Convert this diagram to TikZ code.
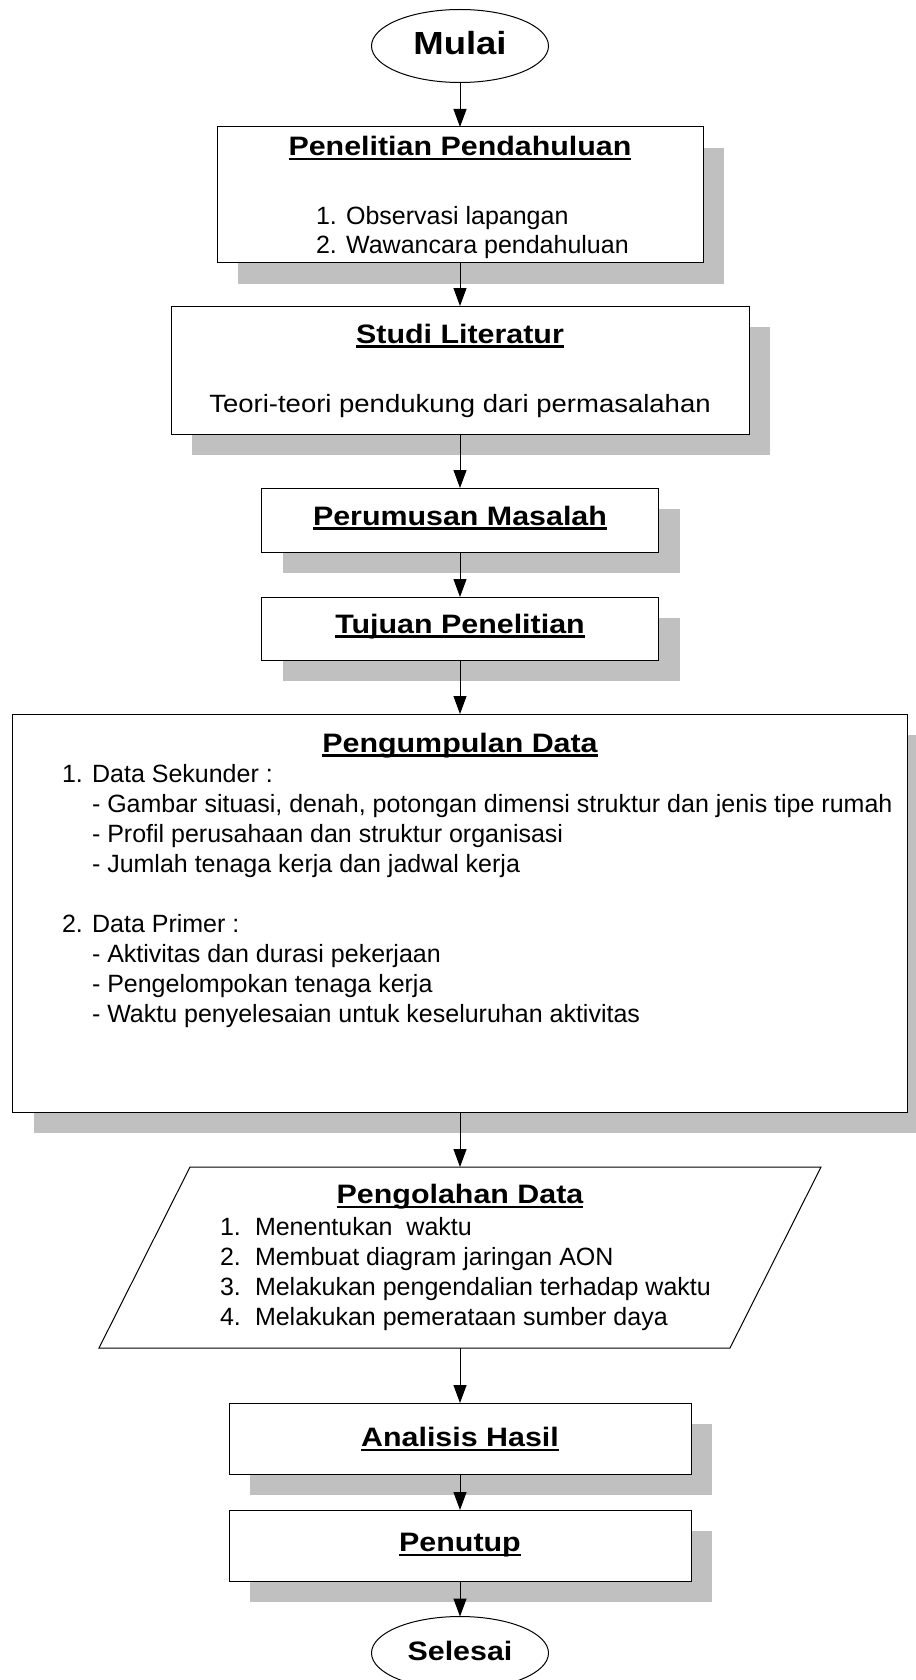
\documentclass[tikz,border=0pt]{standalone}
\usepackage{fontspec}
\setmainfont{Liberation Sans}
\newfontfamily\headfont[FakeStretch=1.14]{Liberation Sans}
\newfontfamily\widefont[FakeStretch=1.1]{Liberation Sans}
\usetikzlibrary{shapes.geometric,arrows.meta,shadows}
\definecolor{shadowgray}{RGB}{192,192,192}
% heading underline that runs through the descenders
\newcommand\ulhead[1]{\setbox0\hbox{#1}\rlap{\rule[-3.4pt]{\wd0}{1.6pt}}\box0}
\tikzset{
  wh/.style 2 args={minimum width=#1*0.75pt, minimum height=#2*0.75pt},
  stepbox/.style={draw=black, line width=0.75pt, fill=white, inner sep=0pt, outer sep=0pt,
    drop shadow={shadow xshift=16pt, shadow yshift=-16pt, fill=shadowgray, opacity=1}},
  terminal/.style={ellipse, draw=black, line width=0.75pt, fill=white, inner sep=0pt,
    outer sep=0pt, wh={177}{73}},
  frame/.style={inner sep=0pt, outer sep=0pt},
  txt/.style={inner sep=0pt, outer sep=0pt, font=\fontsize{18.75pt}{22pt}\selectfont},
  head/.style={inner sep=0pt, outer sep=0pt, font=\headfont\bfseries\fontsize{20pt}{24pt}\selectfont},
  bighead/.style={inner sep=0pt, outer sep=0pt, font=\headfont\bfseries\fontsize{24pt}{28pt}\selectfont},
  arr/.style={line width=0.75pt, -{Triangle[width=9.75pt, length=13.5pt]}}
}
\begin{document}
\begin{tikzpicture}[x=0.75pt, y=-0.75pt]
\useasboundingbox (0,0) rectangle (915,1680);

% terminals and process boxes
\node[terminal] (mulai) at (460,46) {};
\node[stepbox, wh={486}{136}] (pp) at (460,195) {};
\node[stepbox, wh={578}{128}] (sl) at (460,370) {};
\node[stepbox, wh={397}{64}] (pm) at (460,520) {};
\node[stepbox, wh={397}{63}] (tp) at (460,628.5) {};
\node[stepbox, wh={895}{398}] (pd) at (460,913) {};

% data processing (parallelogram)
\node[frame, wh={722}{181}] (olah) at (460,1257.5) {};
\draw[line width=0.75pt, fill=white] (190,1167) -- (821,1167) -- (730,1348) -- (99,1348) -- cycle;

\node[stepbox, wh={462}{71}] (ah) at (460,1438.5) {};
\node[stepbox, wh={462}{71}] (pt) at (460,1545.5) {};
\node[terminal] (selesai) at (460,1653) {};

% texts
\node[bighead, anchor=base] (mulai-t) at (460,55) {Mulai};

\node[head, anchor=base] (pp-t) at (460,155.5) {\ulhead{Penelitian Pendahuluan}};
\node[txt, anchor=base west] (pp-1) at (316,224) {1. Observasi lapangan};
\node[txt, anchor=base west] (pp-2) at (316,253.5) {2. Wawancara pendahuluan};

\node[head, anchor=base] (sl-t) at (460,343) {\ulhead{Studi Literatur}};
\node[txt, anchor=base] (sl-1) at (460,412.5) {\widefont Teori-teori pendukung dari permasalahan};

\node[head, anchor=base] (pm-t) at (460,525) {\ulhead{Perumusan Masalah}};
\node[head, anchor=base] (tp-t) at (460,633) {\ulhead{Tujuan Penelitian}};

\node[head, anchor=base] (pd-t) at (460,752) {\ulhead{Pengumpulan Data}};
\node[txt, anchor=base west] (pd-1) at (62,782) {1. Data Sekunder :};
\node[txt, anchor=base west] (pd-2) at (92,812) {- Gambar situasi, denah, potongan dimensi struktur dan jenis tipe rumah};
\node[txt, anchor=base west] (pd-3) at (92,842) {- Profil perusahaan dan struktur organisasi};
\node[txt, anchor=base west] (pd-4) at (92,872) {- Jumlah tenaga kerja dan jadwal kerja};
\node[txt, anchor=base west] (pd-5) at (62,932) {2. Data Primer :};
\node[txt, anchor=base west] (pd-6) at (92,962) {- Aktivitas dan durasi pekerjaan};
\node[txt, anchor=base west] (pd-7) at (92,992) {- Pengelompokan tenaga kerja};
\node[txt, anchor=base west] (pd-8) at (92,1022) {- Waktu penyelesaian untuk keseluruhan aktivitas};

\node[head, anchor=base] (olah-t) at (460,1203.5) {\ulhead{Pengolahan Data}};
\node[txt, anchor=base west] (olah-1) at (220,1235.5) {\makebox[26.25pt][l]{1.}Menentukan~ waktu};
\node[txt, anchor=base west] (olah-2) at (220,1265.5) {\makebox[26.25pt][l]{2.}Membuat diagram jaringan AON};
\node[txt, anchor=base west] (olah-3) at (220,1295.5) {\makebox[26.25pt][l]{3.}Melakukan pengendalian terhadap waktu};
\node[txt, anchor=base west] (olah-4) at (220,1325.5) {\makebox[26.25pt][l]{4.}Melakukan pemerataan sumber daya};

\node[head, anchor=base] (ah-t) at (460,1446.5) {\ulhead{Analisis Hasil}};
\node[head, anchor=base] (pt-t) at (460,1551.5) {\ulhead{Penutup}};
\node[head, anchor=base] (selesai-t) at (460,1660) {Selesai};

% flow
\draw[arr] (mulai.south) -- (pp.north);
\draw[arr] (pp.south) -- (sl.north);
\draw[arr] (sl.south) -- (pm.north);
\draw[arr] (pm.south) -- (tp.north);
\draw[arr] (tp.south) -- (pd.north);
\draw[arr] (pd.south) -- (olah.north);
\draw[arr] (olah.south) -- (ah.north);
\draw[arr] (ah.south) -- (pt.north);
\draw[arr] (pt.south) -- (selesai.north);
\end{tikzpicture}
\end{document}
